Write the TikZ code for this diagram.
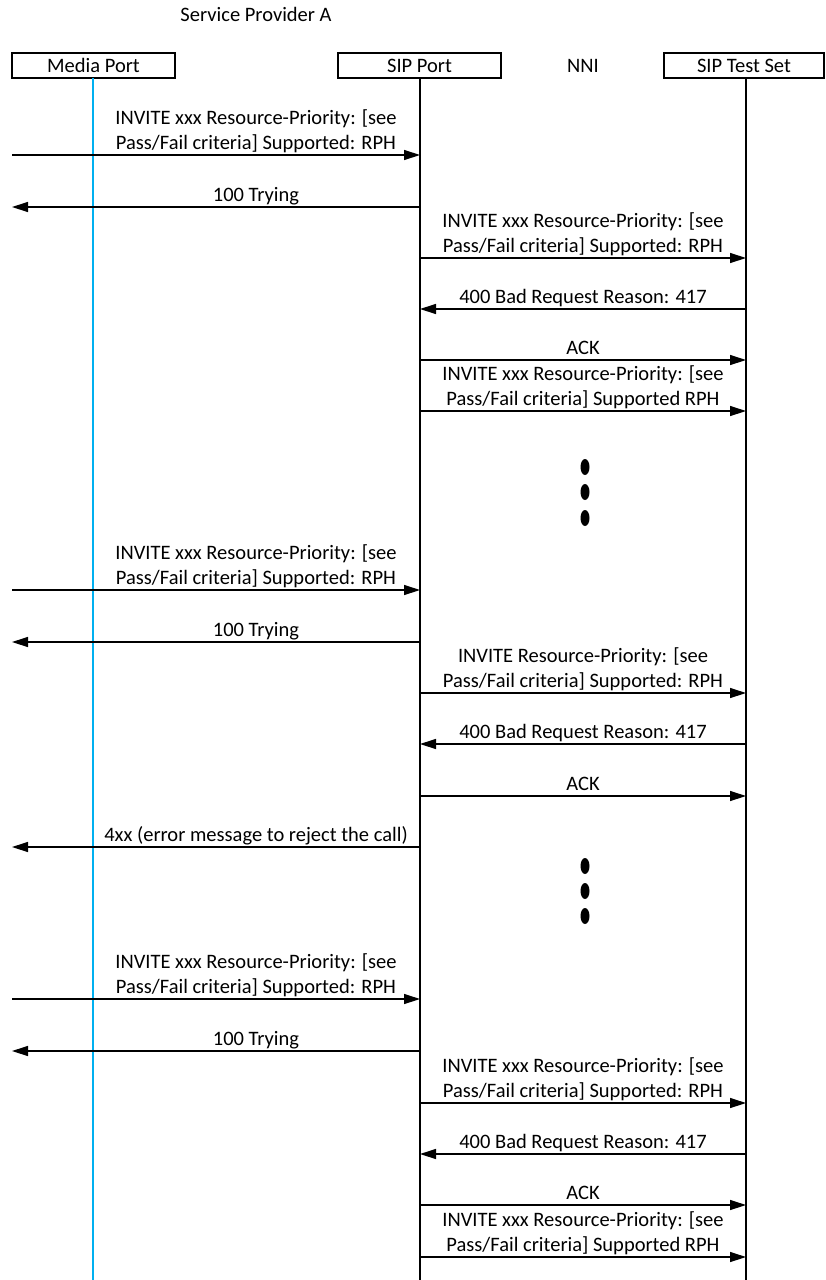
\documentclass[tikz,border=0pt]{standalone}
\usepackage{fontspec}
\setmainfont{Carlito}
\usetikzlibrary{arrows.meta,shapes.geometric}
\definecolor{lifeblue}{RGB}{0,176,240}
\newcommand\msgfont{\fontsize{20.5pt}{25pt}\selectfont}
\tikzset{
  x=1pt, y=-1pt,
  headbox/.style={draw, line width=1.3pt, minimum height=25pt, inner sep=0pt, font=\msgfont},
  life/.style={line width=1.4pt},
  msg/.style={line width=1.3pt, -{Triangle[length=16pt,width=10pt]}},
  lbl/.style={anchor=base, align=center, inner sep=0pt, font=\msgfont},
  vdot/.style={ellipse, fill=black, draw=none, minimum width=9pt, minimum height=16pt, inner sep=0pt},
}
\begin{document}
\begin{tikzpicture}
\useasboundingbox (0,0) rectangle (825,1280);

% title and participants
\node[lbl] (title) at (256,21) {Service Provider A};
\node[headbox, minimum width=163pt] (mpbox) at (93.5,65.5) {Media Port};
\node[headbox, minimum width=163pt] (spbox) at (419.5,65.5) {SIP Port};
\node[lbl] (nni) at (583,72) {NNI};
\node[headbox, minimum width=160pt] (tsbox) at (744,65.5) {SIP Test Set};

% lifeline positions
\coordinate (edge) at (12,78);
\coordinate (mp) at (93,78);
\coordinate (sp) at (420,78);
\coordinate (ts) at (746,78);
\coordinate (bottom) at (0,1280);

\draw[life, lifeblue] (mp) -- (mp |- bottom);
\draw[life] (sp) -- (sp |- bottom);
\draw[life] (ts) -- (ts |- bottom);

% labels sit on their last baseline, 6pt above the arrow
% first attempt
\draw[msg] (edge |- 0,155) -- (sp |- 0,155);
\node[lbl] (m1) at (256,149) {INVITE xxx Resource-Priority: [see\\Pass/Fail criteria] Supported: RPH};
\draw[msg] (sp |- 0,207) -- (edge |- 0,207);
\node[lbl] (m2) at (256,201) {100 Trying};
\draw[msg] (sp |- 0,258) -- (ts |- 0,258);
\node[lbl] (m3) at (583,252) {INVITE xxx Resource-Priority: [see\\Pass/Fail criteria] Supported: RPH};
\draw[msg] (ts |- 0,309) -- (sp |- 0,309);
\node[lbl] (m4) at (583,303) {400 Bad Request Reason: 417};
\draw[msg] (sp |- 0,360) -- (ts |- 0,360);
\node[lbl] (m5) at (583,354) {ACK};
\draw[msg] (sp |- 0,411) -- (ts |- 0,411);
\node[lbl] (m6) at (583,405) {INVITE xxx Resource-Priority: [see\\Pass/Fail criteria] Supported RPH};

\node[vdot] (d1) at (585,467) {};
\node[vdot] (d2) at (585,492) {};
\node[vdot] (d3) at (585,518) {};

% second attempt
\draw[msg] (edge |- 0,590) -- (sp |- 0,590);
\node[lbl] (m7) at (256,584) {INVITE xxx Resource-Priority: [see\\Pass/Fail criteria] Supported: RPH};
\draw[msg] (sp |- 0,642) -- (edge |- 0,642);
\node[lbl] (m8) at (256,636) {100 Trying};
\draw[msg] (sp |- 0,693) -- (ts |- 0,693);
\node[lbl] (m9) at (583,687) {INVITE Resource-Priority: [see\\Pass/Fail criteria] Supported: RPH};
\draw[msg] (ts |- 0,744) -- (sp |- 0,744);
\node[lbl] (m10) at (583,738) {400 Bad Request Reason: 417};
\draw[msg] (sp |- 0,796) -- (ts |- 0,796);
\node[lbl] (m11) at (583,790) {ACK};
\draw[msg] (sp |- 0,847) -- (edge |- 0,847);
\node[lbl] (m12) at (256,841) {4xx (error message to reject the call)};

\node[vdot] (d4) at (585,866) {};
\node[vdot] (d5) at (585,891) {};
\node[vdot] (d6) at (585,916) {};

% third attempt
\draw[msg] (edge |- 0,999) -- (sp |- 0,999);
\node[lbl] (m13) at (256,993) {INVITE xxx Resource-Priority: [see\\Pass/Fail criteria] Supported: RPH};
\draw[msg] (sp |- 0,1051) -- (edge |- 0,1051);
\node[lbl] (m14) at (256,1045) {100 Trying};
\draw[msg] (sp |- 0,1103) -- (ts |- 0,1103);
\node[lbl] (m15) at (583,1097) {INVITE xxx Resource-Priority: [see\\Pass/Fail criteria] Supported: RPH};
\draw[msg] (ts |- 0,1154) -- (sp |- 0,1154);
\node[lbl] (m16) at (583,1148) {400 Bad Request Reason: 417};
\draw[msg] (sp |- 0,1205) -- (ts |- 0,1205);
\node[lbl] (m17) at (583,1199) {ACK};
\draw[msg] (sp |- 0,1257) -- (ts |- 0,1257);
\node[lbl] (m18) at (583,1251) {INVITE xxx Resource-Priority: [see\\Pass/Fail criteria] Supported RPH};
\end{tikzpicture}
\end{document}
